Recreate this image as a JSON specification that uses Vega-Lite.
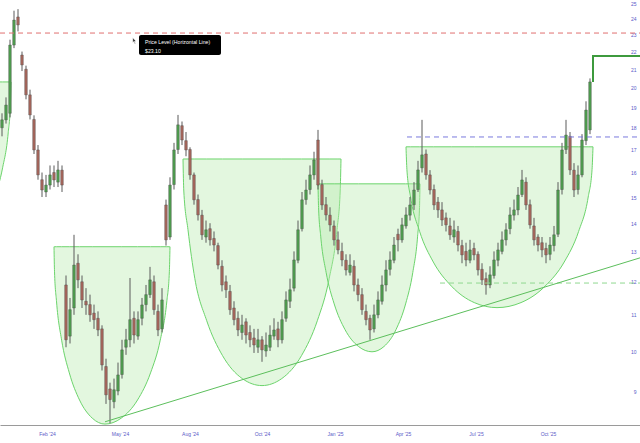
{
  "$schema": "https://vega.github.io/schema/vega-lite/v6.json",
  "width": 640,
  "height": 443,
  "autosize": {"type": "fit", "contains": "padding"},
  "padding": 0,
  "background": "white",
  "config": {"view": {"stroke": null}, "font": "Liberation Sans"},
  "datasets": {
    "candles": [
      {"t":0,"o":18.0,"h":18.7,"l":17.6,"c":18.38},
      {"t":1,"o":18.38,"h":19.5,"l":18.2,"c":19.11},
      {"t":2,"o":18.7,"h":22.7,"l":18.5,"c":22.38},
      {"t":3,"o":22.38,"h":24.5,"l":22.2,"c":23.9},
      {"t":4,"o":24.1,"h":24.6,"l":23.2,"c":23.6},
      {"t":5,"o":21.8,"h":22.0,"l":20.9,"c":21.24},
      {"t":6,"o":21.0,"h":21.2,"l":19.4,"c":19.63},
      {"t":7,"o":19.63,"h":19.9,"l":18.4,"c":18.62},
      {"t":8,"o":18.4,"h":18.6,"l":16.8,"c":16.98},
      {"t":9,"o":16.98,"h":17.2,"l":15.7,"c":15.9},
      {"t":10,"o":15.7,"h":16.0,"l":15.0,"c":15.28},
      {"t":11,"o":15.2,"h":15.9,"l":15.0,"c":15.48},
      {"t":12,"o":15.48,"h":16.3,"l":15.3,"c":15.9},
      {"t":13,"o":16.0,"h":16.3,"l":15.4,"c":15.69},
      {"t":14,"o":15.6,"h":16.5,"l":15.4,"c":16.11},
      {"t":15,"o":16.1,"h":16.3,"l":15.2,"c":15.48},
      {"t":16,"o":11.9,"h":12.2,"l":10.1,"c":10.3},
      {"t":17,"o":10.4,"h":11.5,"l":10.2,"c":11.15},
      {"t":18,"o":11.2,"h":13.58,"l":11.0,"c":12.54},
      {"t":19,"o":12.6,"h":12.9,"l":11.8,"c":12.06},
      {"t":20,"o":12.0,"h":12.2,"l":11.2,"c":11.44},
      {"t":21,"o":11.4,"h":11.8,"l":11.0,"c":11.29},
      {"t":22,"o":11.3,"h":11.6,"l":10.8,"c":11.0},
      {"t":23,"o":11.05,"h":11.3,"l":10.6,"c":10.86},
      {"t":24,"o":10.9,"h":11.1,"l":10.4,"c":10.57},
      {"t":25,"o":10.6,"h":10.7,"l":9.5,"c":9.64},
      {"t":26,"o":9.6,"h":9.8,"l":8.7,"c":8.91},
      {"t":27,"o":9.05,"h":9.2,"l":8.27,"c":8.8},
      {"t":28,"o":8.75,"h":9.3,"l":8.6,"c":9.03},
      {"t":29,"o":9.0,"h":9.7,"l":8.9,"c":9.39},
      {"t":30,"o":9.4,"h":10.3,"l":9.3,"c":10.03},
      {"t":31,"o":10.1,"h":10.6,"l":9.9,"c":10.3},
      {"t":32,"o":10.3,"h":12.12,"l":10.1,"c":10.86},
      {"t":33,"o":10.9,"h":11.1,"l":10.2,"c":10.43},
      {"t":34,"o":10.4,"h":11.1,"l":10.3,"c":10.86},
      {"t":35,"o":10.9,"h":11.5,"l":10.7,"c":11.29},
      {"t":36,"o":11.3,"h":11.9,"l":11.1,"c":11.6},
      {"t":37,"o":11.6,"h":12.48,"l":11.5,"c":12.06},
      {"t":38,"o":12.0,"h":12.2,"l":11.0,"c":11.15},
      {"t":39,"o":11.1,"h":11.3,"l":10.4,"c":10.57},
      {"t":40,"o":10.6,"h":11.8,"l":10.5,"c":11.44},
      {"t":41,"o":14.69,"h":14.9,"l":13.2,"c":13.4},
      {"t":42,"o":13.5,"h":15.8,"l":13.4,"c":15.48},
      {"t":43,"o":15.5,"h":17.3,"l":15.3,"c":16.98},
      {"t":44,"o":17.0,"h":18.62,"l":16.8,"c":18.14},
      {"t":45,"o":18.1,"h":18.3,"l":17.2,"c":17.43},
      {"t":46,"o":17.4,"h":17.8,"l":16.7,"c":16.98},
      {"t":47,"o":17.0,"h":17.1,"l":15.7,"c":15.9},
      {"t":48,"o":15.9,"h":16.0,"l":14.7,"c":14.89},
      {"t":49,"o":14.9,"h":15.1,"l":14.1,"c":14.31},
      {"t":50,"o":14.3,"h":14.5,"l":13.4,"c":13.58},
      {"t":51,"o":13.5,"h":14.1,"l":13.3,"c":13.76},
      {"t":52,"o":13.8,"h":14.0,"l":13.2,"c":13.4},
      {"t":53,"o":13.45,"h":13.7,"l":13.0,"c":13.22},
      {"t":54,"o":13.2,"h":13.3,"l":12.4,"c":12.54},
      {"t":55,"o":12.5,"h":12.7,"l":11.7,"c":11.9},
      {"t":56,"o":12.0,"h":12.2,"l":11.5,"c":11.75},
      {"t":57,"o":11.7,"h":11.9,"l":11.0,"c":11.15},
      {"t":58,"o":11.2,"h":11.4,"l":10.7,"c":10.86},
      {"t":59,"o":10.9,"h":11.1,"l":10.4,"c":10.57},
      {"t":60,"o":10.5,"h":11.0,"l":10.3,"c":10.71},
      {"t":61,"o":10.8,"h":10.9,"l":10.2,"c":10.43},
      {"t":62,"o":10.5,"h":10.7,"l":10.1,"c":10.3},
      {"t":63,"o":10.35,"h":10.6,"l":9.95,"c":10.16},
      {"t":64,"o":10.1,"h":10.6,"l":9.95,"c":10.3},
      {"t":65,"o":10.3,"h":10.4,"l":9.72,"c":10.03},
      {"t":66,"o":10.0,"h":10.5,"l":9.85,"c":10.16},
      {"t":67,"o":10.1,"h":10.7,"l":10.0,"c":10.43},
      {"t":68,"o":10.4,"h":10.9,"l":10.3,"c":10.57},
      {"t":69,"o":10.6,"h":10.8,"l":10.1,"c":10.3},
      {"t":70,"o":10.3,"h":11.1,"l":10.2,"c":10.86},
      {"t":71,"o":10.9,"h":11.7,"l":10.8,"c":11.44},
      {"t":72,"o":11.4,"h":12.1,"l":11.2,"c":11.75},
      {"t":73,"o":11.8,"h":13.0,"l":11.7,"c":12.71},
      {"t":74,"o":12.7,"h":14.1,"l":12.6,"c":13.76},
      {"t":75,"o":13.8,"h":15.2,"l":13.7,"c":14.89},
      {"t":76,"o":14.9,"h":15.7,"l":14.7,"c":15.28},
      {"t":77,"o":15.3,"h":16.3,"l":15.1,"c":15.9},
      {"t":78,"o":15.9,"h":16.9,"l":15.7,"c":16.54},
      {"t":79,"o":17.43,"h":17.9,"l":15.3,"c":15.48},
      {"t":80,"o":15.5,"h":15.7,"l":14.5,"c":14.69},
      {"t":81,"o":14.7,"h":15.0,"l":14.1,"c":14.31},
      {"t":82,"o":14.3,"h":14.6,"l":13.7,"c":13.94},
      {"t":83,"o":13.9,"h":14.1,"l":13.2,"c":13.4},
      {"t":84,"o":13.4,"h":13.7,"l":12.9,"c":13.05},
      {"t":85,"o":13.0,"h":13.3,"l":12.5,"c":12.71},
      {"t":86,"o":12.7,"h":12.9,"l":12.2,"c":12.38},
      {"t":87,"o":12.3,"h":12.9,"l":12.2,"c":12.54},
      {"t":88,"o":12.5,"h":12.7,"l":11.7,"c":11.9},
      {"t":89,"o":11.9,"h":12.1,"l":11.4,"c":11.6},
      {"t":90,"o":11.6,"h":11.8,"l":11.0,"c":11.15},
      {"t":91,"o":11.1,"h":11.3,"l":10.7,"c":10.86},
      {"t":92,"o":10.9,"h":11.0,"l":10.3,"c":10.57},
      {"t":93,"o":10.6,"h":11.3,"l":10.5,"c":11.0},
      {"t":94,"o":11.0,"h":11.7,"l":10.9,"c":11.44},
      {"t":95,"o":11.4,"h":12.2,"l":11.3,"c":11.9},
      {"t":96,"o":11.9,"h":12.7,"l":11.7,"c":12.38},
      {"t":97,"o":12.4,"h":13.0,"l":12.2,"c":12.71},
      {"t":98,"o":12.7,"h":13.5,"l":12.6,"c":13.22},
      {"t":99,"o":13.6,"h":13.8,"l":13.0,"c":13.4},
      {"t":100,"o":13.4,"h":14.2,"l":13.3,"c":13.94},
      {"t":101,"o":13.9,"h":14.6,"l":13.8,"c":14.31},
      {"t":102,"o":14.3,"h":15.0,"l":14.1,"c":14.69},
      {"t":103,"o":14.7,"h":15.6,"l":14.5,"c":15.28},
      {"t":104,"o":15.3,"h":16.5,"l":15.2,"c":16.11},
      {"t":105,"o":16.2,"h":18.38,"l":16.0,"c":16.76},
      {"t":106,"o":16.8,"h":17.0,"l":15.7,"c":15.9},
      {"t":107,"o":15.9,"h":16.1,"l":15.1,"c":15.28},
      {"t":108,"o":15.3,"h":15.5,"l":14.5,"c":14.69},
      {"t":109,"o":14.8,"h":15.0,"l":14.2,"c":14.5},
      {"t":110,"o":14.5,"h":14.8,"l":13.9,"c":14.12},
      {"t":111,"o":14.2,"h":14.4,"l":13.7,"c":13.94},
      {"t":112,"o":13.9,"h":14.2,"l":13.4,"c":13.58},
      {"t":113,"o":13.5,"h":14.1,"l":13.3,"c":13.76},
      {"t":114,"o":13.7,"h":13.9,"l":13.0,"c":13.22},
      {"t":115,"o":13.2,"h":13.4,"l":12.6,"c":12.88},
      {"t":116,"o":13.0,"h":13.3,"l":12.5,"c":12.71},
      {"t":117,"o":12.7,"h":13.4,"l":12.6,"c":13.05},
      {"t":118,"o":13.1,"h":13.3,"l":12.7,"c":12.88},
      {"t":119,"o":12.9,"h":13.0,"l":12.2,"c":12.38},
      {"t":120,"o":12.4,"h":12.6,"l":11.9,"c":12.06},
      {"t":121,"o":12.1,"h":12.3,"l":11.6,"c":11.9},
      {"t":122,"o":11.9,"h":12.5,"l":11.8,"c":12.22},
      {"t":123,"o":12.2,"h":13.0,"l":12.1,"c":12.71},
      {"t":124,"o":12.7,"h":13.3,"l":12.5,"c":13.05},
      {"t":125,"o":13.0,"h":13.7,"l":12.9,"c":13.4},
      {"t":126,"o":13.4,"h":14.0,"l":13.2,"c":13.76},
      {"t":127,"o":13.8,"h":14.6,"l":13.6,"c":14.31},
      {"t":128,"o":14.3,"h":14.9,"l":14.1,"c":14.5},
      {"t":129,"o":14.5,"h":15.4,"l":14.3,"c":15.08},
      {"t":130,"o":15.1,"h":16.11,"l":15.0,"c":15.69},
      {"t":131,"o":15.6,"h":15.8,"l":14.5,"c":14.69},
      {"t":132,"o":14.7,"h":14.9,"l":13.8,"c":13.94},
      {"t":133,"o":13.9,"h":14.2,"l":13.2,"c":13.4},
      {"t":134,"o":13.5,"h":13.6,"l":13.0,"c":13.22},
      {"t":135,"o":13.3,"h":13.5,"l":12.8,"c":13.05},
      {"t":136,"o":13.1,"h":13.3,"l":12.6,"c":12.88},
      {"t":137,"o":12.9,"h":13.5,"l":12.7,"c":13.22},
      {"t":138,"o":13.2,"h":13.9,"l":13.0,"c":13.58},
      {"t":139,"o":13.6,"h":15.6,"l":13.5,"c":15.28},
      {"t":140,"o":15.3,"h":17.3,"l":15.1,"c":16.98},
      {"t":141,"o":17.0,"h":18.38,"l":16.8,"c":17.66},
      {"t":142,"o":17.6,"h":17.8,"l":15.9,"c":16.11},
      {"t":143,"o":16.1,"h":16.4,"l":15.0,"c":15.28},
      {"t":144,"o":15.3,"h":16.3,"l":15.1,"c":15.9},
      {"t":145,"o":15.9,"h":17.7,"l":15.8,"c":17.43},
      {"t":146,"o":17.4,"h":19.3,"l":17.2,"c":18.86},
      {"t":147,"o":17.9,"h":20.5,"l":17.7,"c":20.31}
    ],
    "cups": [
      {"cup":1,"t":-11.75,"v":13.22,"top":20.31},
      {"cup":1,"t":-8.25,"v":13.41,"top":20.31},
      {"cup":1,"t":-4.75,"v":14.0,"top":20.31},
      {"cup":1,"t":-1.95,"v":14.95,"top":20.31},
      {"cup":1,"t":0.15,"v":16.2,"top":20.31},
      {"cup":1,"t":1.55,"v":17.76,"top":20.31},
      {"cup":1,"t":2.1,"v":19.11,"top":20.31},
      {"cup":1,"t":2.25,"v":20.31,"top":20.31},
      {"cup":2,"t":13.0,"v":13.16,"top":13.16},
      {"cup":2,"t":13.13,"v":12.32,"top":13.16},
      {"cup":2,"t":13.64,"v":11.38,"top":13.16},
      {"cup":2,"t":14.91,"v":10.29,"top":13.16},
      {"cup":2,"t":16.83,"v":9.44,"top":13.16},
      {"cup":2,"t":19.38,"v":8.79,"top":13.16},
      {"cup":2,"t":22.56,"v":8.38,"top":13.16},
      {"cup":2,"t":25.75,"v":8.25,"top":13.16},
      {"cup":2,"t":29.81,"v":8.38,"top":13.16},
      {"cup":2,"t":33.88,"v":8.79,"top":13.16},
      {"cup":2,"t":37.13,"v":9.44,"top":13.16},
      {"cup":2,"t":39.56,"v":10.29,"top":13.16},
      {"cup":2,"t":41.19,"v":11.38,"top":13.16},
      {"cup":2,"t":41.84,"v":12.32,"top":13.16},
      {"cup":2,"t":42.0,"v":13.16,"top":13.16},
      {"cup":3,"t":45.25,"v":16.58,"top":16.58},
      {"cup":3,"t":45.45,"v":15.24,"top":16.58},
      {"cup":3,"t":46.49,"v":13.77,"top":16.58},
      {"cup":3,"t":48.21,"v":12.1,"top":16.58},
      {"cup":3,"t":51.18,"v":10.83,"top":16.58},
      {"cup":3,"t":55.13,"v":9.88,"top":16.58},
      {"cup":3,"t":60.06,"v":9.3,"top":16.58},
      {"cup":3,"t":65.0,"v":9.13,"top":16.58},
      {"cup":3,"t":69.94,"v":9.3,"top":16.58},
      {"cup":3,"t":74.88,"v":9.88,"top":16.58},
      {"cup":3,"t":78.83,"v":10.83,"top":16.58},
      {"cup":3,"t":81.79,"v":12.1,"top":16.58},
      {"cup":3,"t":83.76,"v":13.77,"top":16.58},
      {"cup":3,"t":84.55,"v":15.24,"top":16.58},
      {"cup":3,"t":84.75,"v":16.58,"top":16.58},
      {"cup":4,"t":79.0,"v":15.53,"top":15.53},
      {"cup":4,"t":79.14,"v":14.59,"top":15.53},
      {"cup":4,"t":79.68,"v":13.53,"top":15.53},
      {"cup":4,"t":81.03,"v":12.3,"top":15.53},
      {"cup":4,"t":83.05,"v":11.32,"top":15.53},
      {"cup":4,"t":85.75,"v":10.58,"top":15.53},
      {"cup":4,"t":89.13,"v":10.12,"top":15.53},
      {"cup":4,"t":92.5,"v":9.98,"top":15.53},
      {"cup":4,"t":95.5,"v":10.12,"top":15.53},
      {"cup":4,"t":98.5,"v":10.58,"top":15.53},
      {"cup":4,"t":100.9,"v":11.32,"top":15.53},
      {"cup":4,"t":102.7,"v":12.3,"top":15.53},
      {"cup":4,"t":103.9,"v":13.53,"top":15.53},
      {"cup":4,"t":104.38,"v":14.59,"top":15.53},
      {"cup":4,"t":104.5,"v":15.53,"top":15.53},
      {"cup":5,"t":101.0,"v":17.12,"top":17.12},
      {"cup":5,"t":101.23,"v":16.12,"top":17.12},
      {"cup":5,"t":102.14,"v":15.0,"top":17.12},
      {"cup":5,"t":104.41,"v":13.7,"top":17.12},
      {"cup":5,"t":107.83,"v":12.64,"top":17.12},
      {"cup":5,"t":112.38,"v":11.86,"top":17.12},
      {"cup":5,"t":118.06,"v":11.36,"top":17.12},
      {"cup":5,"t":123.75,"v":11.21,"top":17.12},
      {"cup":5,"t":129.75,"v":11.36,"top":17.12},
      {"cup":5,"t":135.75,"v":11.86,"top":17.12},
      {"cup":5,"t":140.55,"v":12.64,"top":17.12},
      {"cup":5,"t":144.15,"v":13.7,"top":17.12},
      {"cup":5,"t":146.55,"v":15.0,"top":17.12},
      {"cup":5,"t":147.51,"v":16.12,"top":17.12},
      {"cup":5,"t":147.75,"v":17.12,"top":17.12}
    ],
    "levels": [
      {"name":"price","t":-0.5,"t2":159.5,"v":23.1},
      {"name":"resist","t":101.25,"t2":159.5,"v":17.57},
      {"name":"support","t":109.5,"t2":159.5,"v":11.96}
    ],
    "trend": [
      {"t":25.75,"v":8.3},
      {"t":159.5,"v":12.78}
    ],
    "step": [
      {"k":0,"t":147.75,"v":20.31},
      {"k":1,"t":147.75,"v":21.74},
      {"k":2,"t":159.5,"v":21.74}
    ],
    "tipbox": [
      {"t":34.25,"t2":54.75,"v":22.98,"v2":21.8}
    ],
    "tiptext": [
      {"t":35.75,"v":22.56,"label":"Price Level (Horizontal Line)"},
      {"t":35.75,"v":22.05,"label":"$23.10"}
    ],
    "cursor": [
      {"t":33.1,"v":22.62}
    ]
  },
  "encoding": {
    "x": {
      "field": "t",
      "type": "quantitative",
      "scale": {"domain": [-0.5, 159.5], "nice": false, "zero": false, "padding": 0},
      "axis": {
        "title": null,
        "grid": false,
        "ticks": false,
        "domain": true,
        "domainColor": "#9a9a9a",
        "domainWidth": 1.2,
        "labelFontSize": 5,
        "labelColor": "#5a5ac8",
        "labelPadding": 6,
        "labelFlush": false,
        "minExtent": 18,
        "maxExtent": 18,
        "values": [11.25, 29.5, 47, 65, 83.25, 100.25, 118.5, 136.5],
        "labelExpr": "datum.value < 20 ? \"Feb '24\" : datum.value < 40 ? \"May '24\" : datum.value < 55 ? \"Aug '24\" : datum.value < 75 ? \"Oct '24\" : datum.value < 90 ? \"Jan '25\" : datum.value < 110 ? \"Apr '25\" : datum.value < 125 ? \"Jul '25\" : \"Oct '25\""
      }
    }
  },
  "layer": [
    {
      "data": {"name": "cups"},
      "mark": {"type": "area", "interpolate": "monotone", "fill": "#b9ecb0", "fillOpacity": 0.4, "stroke": "#6cd46c", "strokeWidth": 1, "clip": true},
      "encoding": {
        "detail": {"field": "cup", "type": "nominal"},
        "y": {
          "field": "v",
          "type": "quantitative",
          "scale": {"type": "log", "domain": [8.23, 25.2], "nice": false, "zero": false, "padding": 0},
          "axis": {
            "title": null,
            "orient": "right",
            "grid": false,
            "ticks": false,
            "domain": false,
            "labelFontSize": 5,
            "labelColor": "#5a5ac8",
            "labelAlign": "right",
            "labelPadding": -4,
            "minExtent": 0,
            "maxExtent": 0,
            "values": [9, 10, 11, 12, 13, 14, 15, 16, 17, 18, 19, 20, 21, 22, 23, 24, 25],
            "format": "d"
          }
        },
        "y2": {"field": "top"}
      }
    },
    {
      "data": {"name": "candles"},
      "mark": {"type": "rule", "color": "#5a5a5a", "strokeWidth": 1},
      "encoding": {
        "y": {"field": "l", "type": "quantitative", "axis": {"title": null}},
        "y2": {"field": "h"}
      }
    },
    {
      "data": {"name": "candles"},
      "mark": {"type": "bar", "width": 2.6, "stroke": "#4a4a4a", "strokeWidth": 0.4},
      "encoding": {
        "y": {"field": "o", "type": "quantitative", "axis": {"title": null}},
        "y2": {"field": "c"},
        "fill": {"condition": {"test": "datum.c >= datum.o", "value": "#4f9f4f"}, "value": "#a8675c"}
      }
    },
    {
      "data": {"name": "levels"},
      "mark": {"type": "rule", "strokeWidth": 1, "strokeDash": [5, 4], "clip": true},
      "encoding": {
        "x2": {"field": "t2"},
        "y": {"field": "v", "type": "quantitative", "axis": {"title": null}},
        "color": {
          "field": "name",
          "type": "nominal",
          "legend": null,
          "scale": {"domain": ["price", "resist", "support"], "range": ["#e07070", "#7a7ade", "#8fd88f"]}
        }
      }
    },
    {
      "data": {"name": "trend"},
      "mark": {"type": "line", "color": "#5cbf5c", "strokeWidth": 1, "clip": true},
      "encoding": {
        "y": {"field": "v", "type": "quantitative", "axis": {"title": null}}
      }
    },
    {
      "data": {"name": "step"},
      "mark": {"type": "line", "color": "#3d9a3d", "strokeWidth": 2, "clip": true},
      "encoding": {
        "y": {"field": "v", "type": "quantitative", "axis": {"title": null}},
        "order": {"field": "k"}
      }
    },
    {
      "data": {"name": "tipbox"},
      "mark": {"type": "rect", "fill": "#000000", "cornerRadius": 2},
      "encoding": {
        "x2": {"field": "t2"},
        "y": {"field": "v", "type": "quantitative", "axis": {"title": null}},
        "y2": {"field": "v2"}
      }
    },
    {
      "data": {"name": "tiptext"},
      "mark": {"type": "text", "color": "#ffffff", "fontSize": 5.2, "align": "left", "baseline": "middle"},
      "encoding": {
        "y": {"field": "v", "type": "quantitative", "axis": {"title": null}},
        "text": {"field": "label"}
      }
    },
    {
      "data": {"name": "cursor"},
      "mark": {"type": "point", "shape": "M-0.5,-1 L-0.5,0.5 L-0.15,0.15 L0.15,0.85 L0.35,0.75 L0.05,0.05 L0.5,0.05 Z", "size": 40, "filled": true, "fill": "#222222", "stroke": "#ffffff", "strokeWidth": 0.5, "opacity": 1},
      "encoding": {
        "y": {"field": "v", "type": "quantitative", "axis": {"title": null}}
      }
    }
  ]
}
